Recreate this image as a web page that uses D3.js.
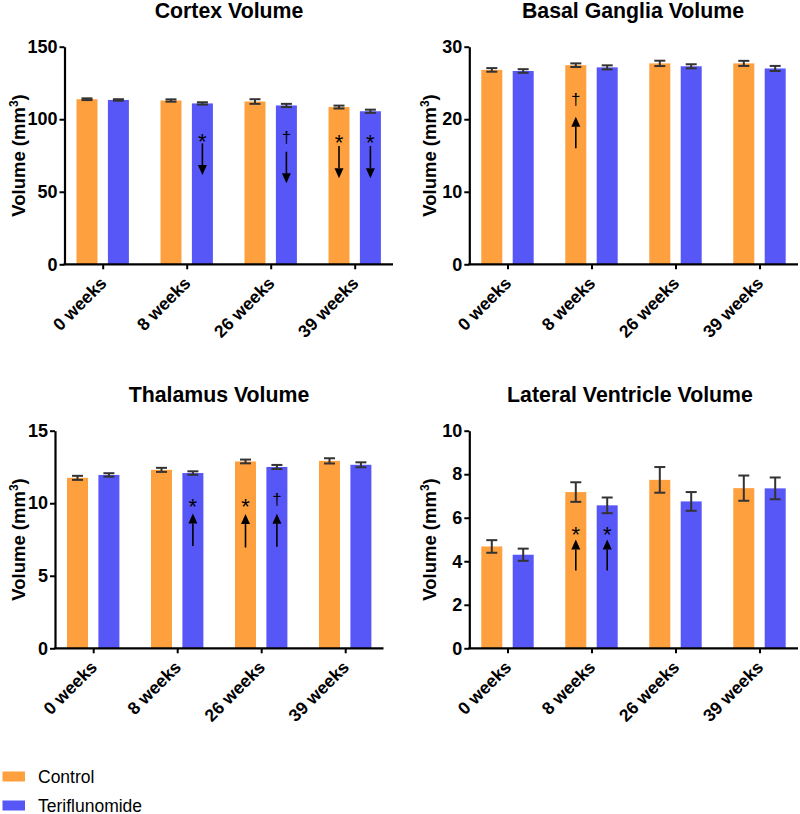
<!DOCTYPE html>
<html><head><meta charset="utf-8">
<script src="https://cdn.jsdelivr.net/npm/d3@7"></script>
<style>
html,body{margin:0;padding:0;background:#fff;}
svg{display:block;font-family:"Liberation Sans",Arial,Helvetica,sans-serif;}
</style></head>
<body>
<svg id="chart" width="800" height="814"></svg>
<script>
// ---------- DATA ----------
const categories = ["0 weeks", "8 weeks", "26 weeks", "39 weeks"];
const seriesNames = ["Control", "Teriflunomide"];
const seriesColors = ["#FFA03F", "#5757F7"];

const cortexControl     = [113.8, 112.9, 112.2, 108.4];
const cortexControlErr  = [0.6, 0.8, 1.6, 1.0];
const cortexTeri        = [113.3, 110.9, 109.5, 105.5];
const cortexTeriErr     = [0.5, 0.8, 1.1, 1.1];
const cortexTicks       = [0, 50, 100, 150];

const basalControl      = [26.8, 27.45, 27.7, 27.7];
const basalControlErr   = [0.25, 0.25, 0.37, 0.35];
const basalTeri         = [26.65, 27.15, 27.3, 27.0];
const basalTeriErr      = [0.25, 0.28, 0.28, 0.35];
const basalTicks        = [0, 10, 20, 30];

const thalControl       = [11.75, 12.3, 12.88, 12.92];
const thalControlErr    = [0.14, 0.14, 0.13, 0.18];
const thalTeri          = [11.95, 12.08, 12.5, 12.65];
const thalTeriErr       = [0.12, 0.12, 0.14, 0.17];
const thalTicks         = [0, 5, 10, 15];

const lvControl         = [4.68, 7.18, 7.74, 7.36];
const lvControlErr      = [0.29, 0.45, 0.59, 0.58];
const lvTeri            = [4.3, 6.57, 6.75, 7.35];
const lvTeriErr         = [0.28, 0.36, 0.43, 0.5];
const lvTicks           = [0, 2, 4, 6, 8, 10];

// annotations: [category index, series index, symbol, symbol value, arrow start value, arrow tip value]
const cortexMarks = [[1, 1, "*", 88.8, 83.4, 61.6], [2, 1, "†", 87.1, 77.6, 55.8], [3, 0, "*", 88.4, 81.5, 59.3], [3, 1, "*", 88.4, 81.5, 59.3]];
const basalMarks  = [[1, 0, "†", 22.6, 16.0, 20.35]];
const thalMarks   = [[1, 1, "*", 10.2, 7.05, 9.3], [2, 0, "*", 10.2, 6.95, 9.25], [2, 1, "†", 10.22, 7.0, 9.27]];
const lvMarks     = [[1, 0, "*", 5.5, 3.57, 5.0], [1, 1, "*", 5.5, 3.57, 5.0]];

// ---------- LAYOUT ----------
const panels = [
  {title: "Cortex Volume", vals: [cortexControl, cortexTeri], errs: [cortexControlErr, cortexTeriErr], ticks: cortexTicks, marks: cortexMarks,
   axisX: 64.5, axisEnd: 393, top: 46.7, bottom: 264.3, labelX: 25, titleX: 229, titleY: 17.5},
  {title: "Basal Ganglia Volume", vals: [basalControl, basalTeri], errs: [basalControlErr, basalTeriErr], ticks: basalTicks, marks: basalMarks,
   axisX: 469.3, axisEnd: 798, top: 46.7, bottom: 264.3, labelX: 436, titleX: 633, titleY: 17.5},
  {title: "Thalamus Volume", vals: [thalControl, thalTeri], errs: [thalControlErr, thalTeriErr], ticks: thalTicks, marks: thalMarks,
   axisX: 55, axisEnd: 383.5, top: 430.7, bottom: 648.3, labelX: 25, titleX: 219, titleY: 401.5},
  {title: "Lateral Ventricle Volume", vals: [lvControl, lvTeri], errs: [lvControlErr, lvTeriErr], ticks: lvTicks, marks: lvMarks,
   axisX: 469.3, axisEnd: 798, top: 430.7, bottom: 648.3, labelX: 436, titleX: 630, titleY: 401.5}
];

const svg = d3.select("#chart");
const barW = 21, barOff = 15.7, capW = 11, errColor = "#333333";

panels.forEach(p => {
  const g = svg.append("g");
  const maxV = d3.max(p.ticks);
  const y = d3.scaleLinear().domain([0, maxV]).range([p.bottom, p.top]);
  const x = d3.scalePoint().domain(categories).range([p.axisX + 38.2, p.axisX + 38.2 + 252]);

  // bars
  seriesNames.forEach((s, si) => {
    const off = si === 0 ? -barOff : barOff;
    g.selectAll(null).data(categories).enter().append("rect")
      .attr("x", c => x(c) + off - barW / 2)
      .attr("y", (c, i) => y(p.vals[si][i]))
      .attr("width", barW)
      .attr("height", (c, i) => y(0) - y(p.vals[si][i]))
      .attr("fill", seriesColors[si]);
    // error bars
    const eb = g.selectAll(null).data(categories).enter().append("g")
      .attr("stroke", errColor).attr("stroke-width", 2).attr("fill", "none");
    eb.append("line")
      .attr("x1", c => x(c) + off).attr("x2", c => x(c) + off)
      .attr("y1", (c, i) => y(p.vals[si][i] - p.errs[si][i]))
      .attr("y2", (c, i) => y(p.vals[si][i] + p.errs[si][i]));
    [-1, 1].forEach(sg => {
      eb.append("line")
        .attr("x1", c => x(c) + off - capW / 2).attr("x2", c => x(c) + off + capW / 2)
        .attr("y1", (c, i) => y(p.vals[si][i] + sg * p.errs[si][i]))
        .attr("y2", (c, i) => y(p.vals[si][i] + sg * p.errs[si][i]));
    });
  });

  // annotations
  p.marks.forEach(m => {
    const cx = x(categories[m[0]]) + (m[1] === 0 ? -barOff : barOff);
    const isStar = m[2] === "*";
    g.append("text").attr("x", cx).attr("y", y(m[3]))
      .attr("dy", isStar ? "0.62em" : "0.3em")
      .attr("text-anchor", "middle")
      .attr("font-size", isStar ? 22 : 17)
      .attr("fill", "#000").text(m[2]);
    const y0 = y(m[4]), y1 = y(m[5]);
    const dir = y1 > y0 ? 1 : -1;
    const headL = 10, headW = 4.5;
    g.append("line").attr("x1", cx).attr("x2", cx).attr("y1", y0).attr("y2", y1 - dir * headL)
      .attr("stroke", "#000").attr("stroke-width", 1.6);
    g.append("path")
      .attr("d", `M${cx},${y1} L${cx - headW},${y1 - dir * headL} L${cx + headW},${y1 - dir * headL} Z`)
      .attr("fill", "#000");
  });

  // y axis
  const yAxis = d3.axisLeft(y).tickValues(p.ticks).tickSize(5).tickSizeOuter(0).tickPadding(2);
  const ya = g.append("g").attr("transform", `translate(${p.axisX},0)`).call(yAxis);
  ya.select(".domain").attr("stroke", "#000").attr("stroke-width", 2.2);
  ya.selectAll(".tick line").attr("stroke", "#000").attr("stroke-width", 2);
  ya.selectAll(".tick text").attr("font-size", 18).attr("font-weight", "bold").attr("fill", "#000")
    .attr("font-family", "'Liberation Sans',Arial,sans-serif");

  // x axis
  const xAxis = d3.axisBottom(x).tickSize(5).tickSizeOuter(0).tickFormat("");
  const xa = g.append("g").attr("transform", `translate(0,${p.bottom})`).call(xAxis);
  xa.select(".domain").remove();
  xa.append("line").attr("x1", p.axisX - 1).attr("x2", p.axisEnd).attr("y1", 0).attr("y2", 0)
    .attr("stroke", "#000").attr("stroke-width", 2.2);
  xa.selectAll(".tick line").attr("stroke", "#000").attr("stroke-width", 2);
  g.selectAll(null).data(categories).enter().append("text")
    .attr("transform", c => `translate(${x(c) + 5},${p.bottom + 20}) rotate(-45)`)
    .attr("text-anchor", "end")
    .attr("font-size", 17.5).attr("font-weight", "bold").attr("fill", "#000")
    .text(c => c);

  // y label
  const yl = g.append("text")
    .attr("transform", `translate(${p.labelX},${(p.top + p.bottom) / 2}) rotate(-90)`)
    .attr("text-anchor", "middle").attr("font-size", 18.5).attr("font-weight", "bold").attr("fill", "#000");
  yl.append("tspan").text("Volume (mm");
  yl.append("tspan").attr("baseline-shift", "super").attr("font-size", 12).text("3");
  yl.append("tspan").text(")");

  // title
  g.append("text").attr("x", p.titleX).attr("y", p.titleY).attr("text-anchor", "middle")
    .attr("font-size", 21.3).attr("font-weight", "bold").attr("fill", "#000").text(p.title);
});

// legend
const lg = svg.append("g");
lg.selectAll(null).data(seriesNames).enter().append("rect")
  .attr("x", 2.5).attr("y", (d, i) => 771.5 + i * 29).attr("width", 22.5).attr("height", 10)
  .attr("fill", (d, i) => seriesColors[i]);
lg.selectAll(null).data(seriesNames).enter().append("text")
  .attr("x", 38).attr("y", (d, i) => 782.5 + i * 29)
  .attr("font-size", 17.5).attr("fill", "#000").text(d => d);
</script>
</body></html>
